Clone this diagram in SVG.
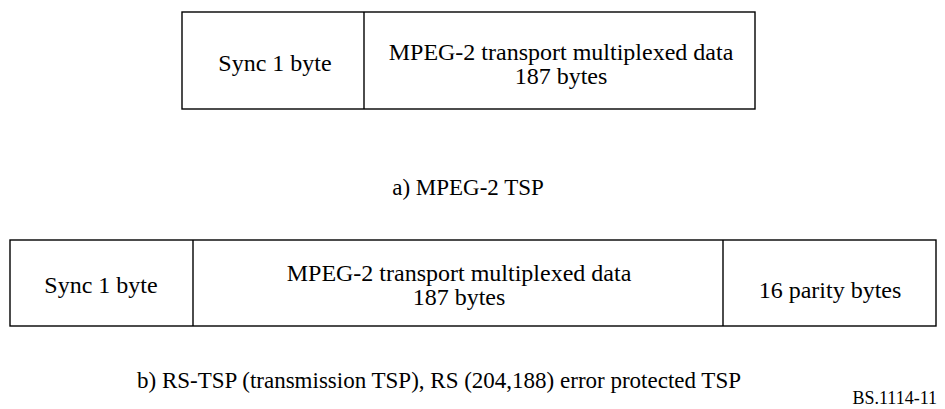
<svg xmlns="http://www.w3.org/2000/svg" width="945" height="409" viewBox="0 0 945 409">
<style>
.box{fill:#fff;stroke:#000;stroke-width:1.4}
.ln{stroke:#000;stroke-width:1.4}
.t{font-family:'Liberation Serif','Times New Roman',Times,serif;font-size:24px;fill:#000;text-anchor:middle}
.cap{font-size:23px}
.small{font-size:18px;text-anchor:end}
</style>
<rect width="945" height="409" fill="#fff"/>
<g id="tsp">
<rect class="box" x="182" y="12" width="573" height="97"/>
<line class="ln" x1="364" y1="12" x2="364" y2="109"/>
<text class="t" x="275" y="71">Sync 1 byte</text>
<text class="t" x="561" y="60">MPEG-2 transport multiplexed data</text>
<text class="t" x="561" y="84">187 bytes</text>
</g>
<text id="caption-a" class="t cap" x="468" y="195">a) MPEG-2 TSP</text>
<g id="rs-tsp">
<rect class="box" x="10" y="240" width="926" height="86"/>
<line class="ln" x1="193" y1="240" x2="193" y2="326"/>
<line class="ln" x1="723" y1="240" x2="723" y2="326"/>
<text class="t" x="101" y="293">Sync 1 byte</text>
<text class="t" x="459" y="281">MPEG-2 transport multiplexed data</text>
<text class="t" x="459" y="305">187 bytes</text>
<text class="t" x="830" y="298">16 parity bytes</text>
</g>
<text id="caption-b" class="t cap" x="439" y="388">b) RS-TSP (transmission TSP), RS (204,188) error protected TSP</text>
<text class="t small" x="937" y="404">BS.1114-11</text>
</svg>
